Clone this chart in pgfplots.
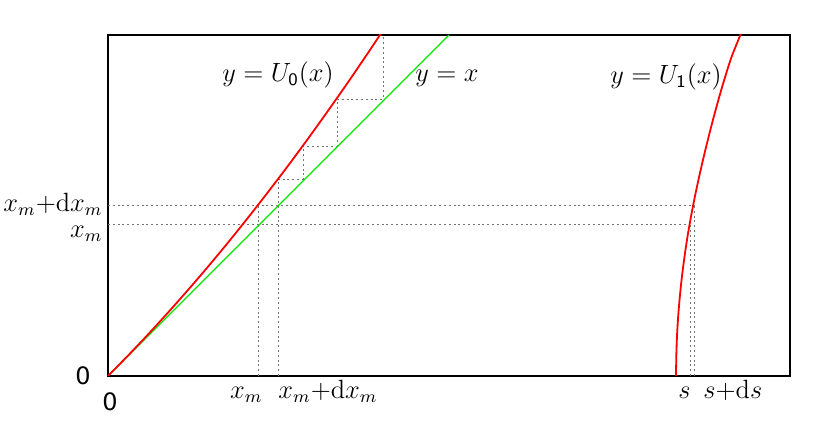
\documentclass[border=0pt]{standalone}
\usepackage{fontspec}
\newfontfamily\tickfont{DejaVu Sans}
\usepackage{pgfplots}
\pgfplotsset{compat=1.18}

\definecolor{ured}{RGB}{255,0,0}
\definecolor{ugreen}{RGB}{0,230,0}
\tikzset{lbl/.style={inner sep=0pt, font=\fontsize{12}{14}\selectfont, scale=1.1}}

\begin{document}
\begin{tikzpicture}
\path[use as bounding box] (-54pt,-31pt) rectangle (361pt,188pt);
\begin{axis}[
    at={(0,0)}, anchor=south west,
    scale only axis,
    width=341pt, height=170.5pt,
    xmin=0, xmax=682, ymin=0, ymax=341,
    xtick=\empty, ytick=\empty,
    axis line style={line width=0.8pt},
    every axis plot/.append style={no marks},
    guide/.style={gray!90!black, line width=0.45pt, dash pattern=on 1pt off 1.4pt},
    clip mode=individual,
]
% guide lines
\addplot[guide] coordinates {(0,171) (586,171)};
\addplot[guide] coordinates {(0,152) (582,152)};
\addplot[guide] coordinates {(150,0) (150,171)};
\addplot[guide] coordinates {(170,0) (170,197) (195,197) (195,230) (229,230) (229,277) (275,277) (275,341)};
\addplot[guide] coordinates {(582,0) (582,152)};
\addplot[guide] coordinates {(586,0) (586,171)};

% y = x
\addplot[ugreen, line width=0.6pt] coordinates {(0,0) (341,341)};

% y = U0(x)
\addplot[ured, line width=0.9pt, smooth] coordinates {
    (0,0) (20,20.4) (40,41.5) (60,63.4) (80,86.0) (100,109.3) (120,133.4)
    (140,158.3) (160,183.9) (180,210.2) (200,237.3) (220,265.2)
    (240,293.7) (260,323.1) (275,345.6)
};

% y = U1(x)
\addplot[ured, line width=0.9pt, smooth] coordinates {
    (568,0) (568.3,20) (569,40) (570.2,60) (571.9,80) (574,100) (576.6,120)
    (579.6,140) (583.1,160) (587,180) (591.3,200) (595.9,220) (600.8,240)
    (606,260) (611.5,280) (617.4,300) (623.9,320) (634,345)
};

\node[font=\tickfont\fontsize{12}{14}\selectfont] at (axis cs:2,-26) {0};
\node[font=\tickfont\fontsize{12}{14}\selectfont] at (axis cs:-25,0) {0};

\node[lbl, anchor=base east] at (axis cs:155,-23) {$x_m$};
\node[lbl, anchor=base west] at (axis cs:170,-23) {$x_m{+}\mathrm{d}x_m$};
\node[lbl, anchor=base west] at (axis cs:570,-23) {$s$};
\node[lbl, anchor=base west] at (axis cs:595,-23) {$s{+}\mathrm{d}s$};

\node[lbl, anchor=base east] at (axis cs:-5,164) {$x_m{+}\mathrm{d}x_m$};
\node[lbl, anchor=base east] at (axis cs:-5,138) {$x_m$};

\node[lbl, anchor=west] at (axis cs:114,301) {$y = U_{\mathsf{0}}(x)$};
\node[lbl, anchor=west] at (axis cs:307,298) {$y = x$};
\node[lbl, anchor=west] at (axis cs:502,299) {$y = U_{\mathsf{1}}(x)$};
\end{axis}
\end{tikzpicture}
\end{document}
